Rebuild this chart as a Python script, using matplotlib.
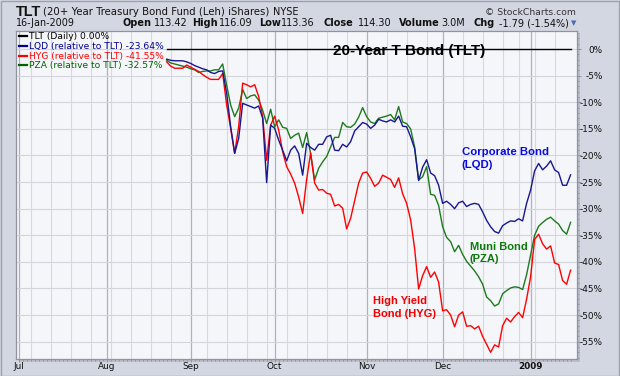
import numpy as np
import pandas as pd
import matplotlib
matplotlib.use('Agg')
import matplotlib.pyplot as plt
from matplotlib.lines import Line2D
from matplotlib.patches import Rectangle

# ---------------- data ----------------
start_date = '2008-07-01'
end_date = '2009-01-16'
holidays = ['2008-07-04', '2008-09-01', '2008-11-27', '2008-12-25', '2009-01-01']
first_visible = 37  # first trading-day index drawn (Aug 22 2008)

lqd = [-1.9, -2.1, -2.2, -2.2, -2.2, -2.4, -2.7, -3.1, -3.4, -3.7,
       -3.9, -4.4, -4.6, -4.2, -4.1, -8.3, -14.6, -19.6, -16.8, -10.2,
       -10.5, -10.8, -11.1, -10.7, -13.0, -25.1, -14.3, -14.9, -17.1, -19.0,
       -21.0, -19.0, -18.2, -19.6, -23.7, -17.7, -18.5, -19.0, -17.9, -17.9,
       -16.5, -16.2, -19.0, -19.1, -17.9, -18.4, -17.4, -15.4, -14.6, -13.8,
       -14.1, -14.9, -14.3, -13.2, -13.5, -13.7, -13.3, -13.7, -12.6, -14.5,
       -14.6, -16.5, -18.7, -24.7, -22.2, -20.8, -23.3, -23.8, -25.6, -29.0,
       -28.6, -29.2, -30.0, -28.9, -28.6, -29.6, -29.2, -29.0, -29.2, -30.6,
       -32.2, -33.4, -34.3, -34.6, -33.2, -32.7, -32.3, -32.4, -31.9, -32.3,
       -29.0, -26.5, -22.9, -21.5, -22.7, -22.0, -21.0, -22.7, -23.2, -25.6,
       -25.6, -23.64]

hyg = [-2.4, -3.2, -3.6, -3.6, -3.6, -3.0, -3.4, -3.8, -4.2, -4.8,
       -5.3, -5.7, -5.7, -5.7, -4.6, -10.5, -14.9, -19.6, -14.6, -6.4,
       -6.7, -7.1, -6.7, -8.9, -12.7, -20.9, -14.3, -12.6, -15.2, -19.3,
       -22.1, -23.5, -25.2, -27.8, -30.9, -24.5, -19.5, -25.2, -26.5, -26.4,
       -27.1, -27.3, -29.5, -29.2, -29.9, -33.8, -31.8, -28.5, -25.2, -23.3,
       -23.1, -24.3, -25.8, -25.2, -23.7, -24.1, -24.5, -26.0, -24.2, -27.2,
       -29.0, -32.1, -37.5, -45.1, -42.6, -40.9, -42.9, -41.9, -43.8, -49.2,
       -49.0, -50.0, -52.2, -50.0, -49.4, -52.1, -52.0, -52.6, -52.1, -54.0,
       -55.5, -57.0, -55.6, -56.0, -52.0, -50.6, -51.3, -50.3, -49.5, -50.5,
       -47.0, -42.8, -35.8, -34.8, -36.6, -37.6, -37.0, -40.2, -40.5, -43.5,
       -44.2, -41.55]

pza = [-2.1, -2.6, -2.8, -3.0, -3.2, -3.4, -3.7, -3.9, -4.4, -4.2,
       -4.1, -4.1, -3.9, -3.9, -2.8, -6.8, -10.5, -12.7, -11.1, -7.6,
       -9.3, -8.8, -8.6, -9.6, -11.5, -14.0, -11.3, -14.6, -13.3, -14.7,
       -14.9, -16.8, -16.2, -15.8, -18.5, -15.7, -19.7, -24.6, -22.4, -21.2,
       -20.2, -18.4, -16.6, -16.6, -13.8, -14.6, -14.7, -14.1, -12.8, -11.0,
       -12.7, -13.7, -14.0, -13.0, -12.8, -12.6, -12.3, -13.3, -10.8, -13.7,
       -14.0, -15.0, -18.4, -24.6, -24.0, -22.1, -27.3, -27.5, -29.4, -33.4,
       -35.4, -36.2, -38.1, -36.9, -38.6, -39.9, -40.8, -41.7, -42.8, -44.2,
       -46.6, -47.3, -48.3, -47.9, -46.0, -45.4, -44.9, -44.7, -44.8, -45.2,
       -42.4, -38.7, -35.0, -33.3, -32.6, -32.0, -31.6, -32.3, -32.9, -34.1,
       -34.8, -32.57]

tlt = [0.0] * len(lqd)

y_ticks = [0, -5, -10, -15, -20, -25, -30, -35, -40, -45, -50, -55]
month_labels = ['Jul', 'Aug', 'Sep', 'Oct', 'Nov', 'Dec', '2009']

legend_entries = ['TLT (Daily) 0.00%',
                  'LQD (relative to TLT) -23.64%',
                  'HYG (relative to TLT) -41.55%',
                  'PZA (relative to TLT) -32.57%']

# ---------------- styling ----------------
W, H = 620, 376
c_lqd, c_hyg, c_pza, c_tlt = '#17178f', '#ff0000', '#1d7a1d', '#000000'
c_lqd_txt, c_hyg_txt, c_pza_txt = '#0a0ae0', '#f20000', '#0b7a0b'
legend_colors = ['#000000', '#00008b', '#ff0000', '#006400']


def fx(px):
    return px / W


def fy(py):
    return 1 - py / H


dates = pd.bdate_range(start_date, end_date)
dates = dates[~dates.isin(pd.to_datetime(holidays))]
n = len(dates)
idx = np.arange(first_visible, first_visible + len(lqd))

fig = plt.figure(figsize=(W / 100, H / 100), dpi=100)
fig.patch.set_facecolor('#d3d7e1')
renderer = fig.canvas.get_renderer()

# outer border
fig.add_artist(Rectangle((0.5 / W, 0.5 / H), 1 - 1.5 / W, 1 - 1.5 / H, transform=fig.transFigure,
                         fill=False, edgecolor='#9ca1ad', lw=1.0, zorder=-2))
# plot shadow
fig.add_artist(Rectangle((fx(19), fy(362)), (577 - 16) / W, (359 - 31) / H, transform=fig.transFigure,
                         facecolor='#babec9', edgecolor='none', zorder=-1))

ax = fig.add_axes([fx(16), fy(359), (577 - 16) / W, (359 - 31) / H])
ax.set_zorder(2)
ax.set_facecolor('#f5f6fa')
ax.set_xlim(-0.675, 139.6)
ax.set_ylim(-58.26, 3.40)

# grid lines
month_pos = [i for i in range(n) if i == 0 or dates[i].month != dates[i - 1].month]
week_pos = [i for i in range(1, n) if dates[i].weekday() < dates[i - 1].weekday() and i not in month_pos]
for p in week_pos:
    ax.axvline(p, color='#d6d9e0', lw=0.8, zorder=1)
for p in month_pos:
    ax.axvline(p, color='#aeb2bb', lw=0.9, zorder=1)
for v in y_ticks:
    ax.axhline(v, color='#d2d5dc', lw=0.8, zorder=1)

# series
ax.plot(idx, tlt, color=c_tlt, lw=1.0, zorder=3)
ax.plot(idx, pza, color=c_pza, lw=1.0, zorder=4)
ax.plot(idx, hyg, color=c_hyg, lw=1.0, zorder=4)
ax.plot(idx, lqd, color=c_lqd, lw=1.0, zorder=5)

for s in ax.spines.values():
    s.set_color('#8e939e')
    s.set_linewidth(0.9)

# y axis on right
ax.yaxis.tick_right()
ax.set_yticks(y_ticks)
ax.set_yticklabels([f'{v}%' for v in y_ticks])
ax.set_yticks(np.arange(-58, 4, 1), minor=True)
ax.tick_params(axis='y', which='major', length=2.9, width=0.7, color='#8e939e', pad=15.8,
               labelsize=6.4, labelcolor='#111111')
ax.tick_params(axis='y', which='minor', length=1.2, width=0.6, color='#8e939e')
for t in ax.get_yticklabels():
    t.set_horizontalalignment('right')

# x axis
ax.set_xticks(month_pos)
ax.set_xticklabels(month_labels)
ax.set_xticks(np.arange(0, n), minor=True)
ax.tick_params(axis='x', which='major', length=2.0, width=0.7, color='#8e939e', pad=0.3,
               labelsize=6.4, labelcolor='#111111')
ax.tick_params(axis='x', which='minor', length=1.2, width=0.6, color='#8e939e')
ax.get_xticklabels()[-1].set_fontweight('bold')


def fit_text(x, y, s, width, ha='left', va='baseline', size=None, **kw):
    t = fig.text(fx(x), fy(y), s, fontsize=10, ha=ha, va=va, **kw)
    if size is None:
        w = t.get_window_extent(renderer).width
        size = 10 * width / w
    t.set_fontsize(size)
    return t, size


# ---- header ----
fit_text(16, 15.5, 'TLT', 25, family='Liberation Sans', fontweight='bold', color='#111111')
fit_text(43, 15, '(20+ Year Treasury Bond Fund (Leh) iShares)', 226, color='#111111')
fit_text(273, 15, 'NYSE', 25.5, color='#111111')
fit_text(576, 15, '\u00a9 StockCharts.com', 91, ha='right', color='#333333')
fit_text(16, 26.5, '16-Jan-2009', 58.5, color='#111111')

hdr = [('Open', True, 122.5), ('113.42', False, 154), ('High', True, 192.5), ('116.09', False, 218.6),
       ('Low', True, 259), ('113.36', False, 281), ('Close', True, 324), ('114.30', False, 358),
       ('Volume', True, 399), ('3.0M', False, 441), ('Chg', True, 474), ('-1.79 (-1.54%)', False, 499)]
for s, b, x in hdr:
    fig.text(fx(x), fy(26.5), s, fontsize=7.0, fontweight='bold' if b else 'normal',
             color='#111111', va='baseline')
fig.text(fx(573.5), fy(23.5), '\u25bc', fontsize=5.0, color='#4b6cb0', ha='center', va='center')

# ---- legend ----
_, lsize = fit_text(29.3, 49.2, legend_entries[1], 135, color=legend_colors[1], zorder=5)
leg_base = [39.3, 49.2, 58.8, 68.4]
for i, (s, c) in enumerate(zip(legend_entries, legend_colors)):
    if i != 1:
        fig.text(fx(29.3), fy(leg_base[i]), s, fontsize=lsize, color=c, va='baseline', zorder=5)
    yc = leg_base[i] - 3.3
    fig.add_artist(Line2D([fx(19.5), fx(26.8)], [fy(yc), fy(yc)], color=c, lw=1.6,
                          transform=fig.transFigure, zorder=5))

# ---- annotations ----
bold = dict(family='Liberation Sans', fontweight='bold', zorder=6)
fit_text(333, 55, '20-Year T Bond (TLT)', 152, color='#000000', **bold)
_, s1 = fit_text(461.7, 155, 'Corporate Bond', 86.6, color=c_lqd_txt, **bold)
fit_text(461.7, 168, '(LQD)', 0, size=s1, color=c_lqd_txt, **bold)
_, s2 = fit_text(470, 249.5, 'Muni Bond', 57.3, color=c_pza_txt, **bold)
fit_text(470, 262.5, '(PZA)', 0, size=s2, color=c_pza_txt, **bold)
_, s3 = fit_text(373.3, 304, 'High Yield', 54, color=c_hyg_txt, **bold)
fit_text(373.3, 317, 'Bond (HYG)', 0, size=s3, color=c_hyg_txt, **bold)

fig.savefig('out.png', dpi=100, facecolor=fig.get_facecolor())
